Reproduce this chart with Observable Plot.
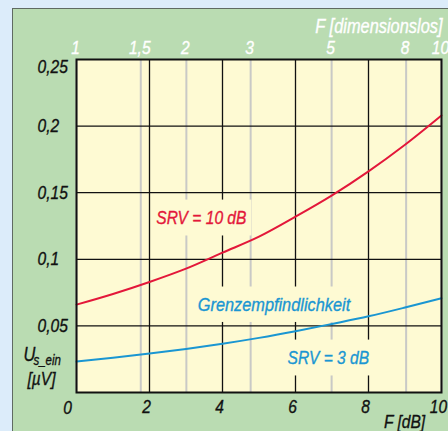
<!DOCTYPE html>
<html><head><meta charset="utf-8">
<script src="https://cdn.jsdelivr.net/npm/d3@7"></script>
<script src="https://cdn.jsdelivr.net/npm/@observablehq/plot@0.6"></script>
<style>
html,body{margin:0;padding:0;background:#dcecfa;}
#wrap{position:relative;width:448px;height:431px;overflow:hidden;}
#panel{position:absolute;left:12px;top:8px;width:460px;height:450px;background:#badcb2;border:1px solid #5f6a62;}
#chart{position:absolute;left:0;top:0;}
</style></head><body>
<div id="wrap"><div id="panel"></div><div id="chart"></div></div>
<script>
// Data
const fdB = [0,1,2,3,4,5,6,7,8,9,10];
const srv10 = [0.066,0.074,0.083,0.093,0.105,0.117,0.132,0.148,0.166,0.186,0.208];
const srv3  = [0.0232,0.026,0.0292,0.0327,0.0366,0.041,0.046,0.0515,0.0572,0.0638,0.0708];

const yTicks = [0.05,0.1,0.15,0.2];
const yTickLabels = ["0,05","0,1","0,15","0,2"];
const yTopTick = [0.25];
const yTopTickLabel = ["0,25"];
const xTicks = [2,4,6,8,10];
const xTickLabels = ["2","4","6","8","10"];
const originTick = [0];
const originLabel = ["0"];
const fLin = [1,1.5,2,3,5,8,10];
const fLinLabels = ["1","1,5","2","3","5","8","10"];

const annText = ["SRV = 10 dB","Grenzempfindlichkeit","SRV = 3 dB"];
const annX = [3.42,5.41,6.9];
const annY = [0.131,0.066,0.0259];
const annSeries = ["red","blue","blue"];

const RED = "#e3173a", BLUE = "#1a96d2", YEL = "#fefad3";
const FONT = "'Liberation Sans',Arial,sans-serif";

const redData = fdB.map((x,i)=>({x, y:srv10[i]}));
const blueData = fdB.map((x,i)=>({x, y:srv3[i]}));
const fdBlin = fLin.map(f => 10*Math.log10(f));
const ann = annText.map((t,i)=>({t, x:annX[i], y:annY[i], c: annSeries[i]==="red"?RED:BLUE}));
const txt = {fontFamily: FONT, fontStyle: "italic", fontSize: 19};

const chart = Plot.plot({
  width: 448, height: 431,
  marginLeft: 76, marginRight: 7, marginTop: 59, marginBottom: 39,
  x: {domain:[0,10], axis:null},
  y: {domain:[0,0.25], axis:null},
  style: {background:"transparent", overflow:"visible"},
  marks: [
    Plot.frame({fill: YEL}),
    Plot.ruleX(fdBlin, {stroke:"#c9c9c6", strokeWidth:2}),
    Plot.ruleX(xTicks.slice(0,-1), {stroke:"#111", strokeWidth:1.3}),
    Plot.ruleY(yTicks, {stroke:"#111", strokeWidth:1.3}),
    Plot.line(redData, {x:"x", y:"y", stroke:RED, strokeWidth:2, curve:"monotone-x"}),
    Plot.line(blueData, {x:"x", y:"y", stroke:BLUE, strokeWidth:2, curve:"monotone-x"}),
    Plot.text(ann, {x:"x", y:"y", text:"t", fill:"c", ...txt}),
    Plot.frame({stroke:"#111", strokeWidth:2}),
    // left tick labels
    Plot.text(yTicks, {x:()=>0, y:d=>d, text:(d,i)=>yTickLabels[i], textAnchor:"start", dx:-39, fill:"#111", ...txt}),
    Plot.text(yTopTick, {x:()=>0, y:d=>d, text:(d,i)=>yTopTickLabel[i], textAnchor:"start", dx:-39, dy:7, fill:"#111", ...txt}),
    // bottom tick labels
    Plot.text(xTicks, {x:d=>d, y:()=>0, text:(d,i)=>xTickLabels[i], dx:-3, dy:14, fill:"#111", ...txt}),
    Plot.text(originTick, {x:d=>d, y:()=>0, text:(d,i)=>originLabel[i], dx:-9, dy:15, fill:"#111", ...txt}),
    Plot.text(["F [dB]"], {x:()=>10, y:()=>0, text:d=>d, dx:-37, dy:29, fill:"#111", ...txt}),
    // top axis (dimensionless F)
    Plot.text(fLin, {x:(d,i)=>fdBlin[i], y:()=>0.25, text:(d,i)=>fLinLabels[i], dx:-1, dy:-12, fill:"#fff", ...txt}),
    Plot.text(["F [dimensionslos]"], {x:()=>10, y:()=>0.25, text:d=>d, textAnchor:"end", dx:1, dy:-33, fill:"#fff", ...txt, fontSize:20}),
    // y label
    Plot.text(["U"], {x:()=>0, y:()=>0, text:d=>d, textAnchor:"start", dx:-53, dy:-38, fill:"#111", ...txt, fontSize:20}),
    Plot.text(["s_ein"], {x:()=>0, y:()=>0, text:d=>d, textAnchor:"start", dx:-43, dy:-32, fill:"#111", ...txt, fontSize:14}),
    Plot.text(["[µV]"], {x:()=>0, y:()=>0, text:d=>d, textAnchor:"start", dx:-49, dy:-14, fill:"#111", ...txt, fontSize:19})
  ]
});
document.getElementById("chart").append(chart);

// condensed, slightly heavier look: compress every text horizontally around its anchor
chart.querySelectorAll("text").forEach(t => {
  const tr = t.getAttribute("transform") || "";
  const sx = t.textContent === "Grenzempfindlichkeit" ? 0.86 : 0.82;
  t.setAttribute("transform", tr + ` scale(${sx},1)`);
  const f = getComputedStyle(t).fill;
  t.setAttribute("stroke", f);
  t.setAttribute("stroke-width", 0.35);
});

// knock out grid lines behind the annotations
const svgRect = chart.getBoundingClientRect();
const firstLine = chart.querySelector("g[aria-label='line']");
if (firstLine) {
  const ko = document.createElementNS("http://www.w3.org/2000/svg","g");
  chart.querySelectorAll("text").forEach(t => {
    if (!annText.includes(t.textContent)) return;
    const b = t.getBoundingClientRect();
    const r = document.createElementNS("http://www.w3.org/2000/svg","rect");
    r.setAttribute("x", b.left - svgRect.left - 5);
    r.setAttribute("y", b.top - svgRect.top - 7);
    r.setAttribute("width", b.width + 10);
    r.setAttribute("height", b.height + 14);
    r.setAttribute("fill", YEL);
    ko.append(r);
  });
  firstLine.parentNode.insertBefore(ko, firstLine);
}
</script>
</body></html>
